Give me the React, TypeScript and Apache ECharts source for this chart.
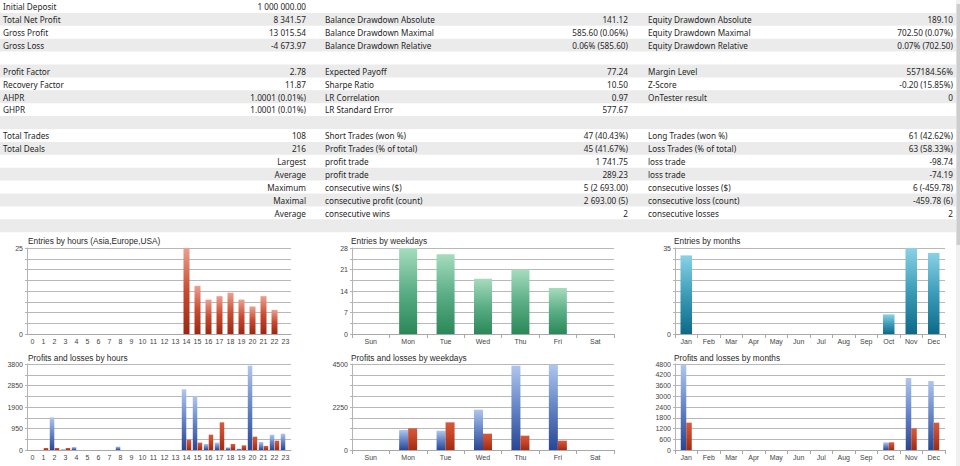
import React, { useEffect, useRef } from 'react';
import * as echarts from 'echarts';

// ---------- table data ----------
// each row: [label1, value1, label2, value2, label3, value3]
const statRows: string[][] = [
  ['Initial Deposit', '1 000 000.00', '', '', '', ''],
  ['Total Net Profit', '8 341.57', 'Balance Drawdown Absolute', '141.12', 'Equity Drawdown Absolute', '189.10'],
  ['Gross Profit', '13 015.54', 'Balance Drawdown Maximal', '585.60 (0.06%)', 'Equity Drawdown Maximal', '702.50 (0.07%)'],
  ['Gross Loss', '-4 673.97', 'Balance Drawdown Relative', '0.06% (585.60)', 'Equity Drawdown Relative', '0.07% (702.50)'],
  ['', '', '', '', '', ''],
  ['Profit Factor', '2.78', 'Expected Payoff', '77.24', 'Margin Level', '557184.56%'],
  ['Recovery Factor', '11.87', 'Sharpe Ratio', '10.50', 'Z-Score', '-0.20 (15.85%)'],
  ['AHPR', '1.0001 (0.01%)', 'LR Correlation', '0.97', 'OnTester result', '0'],
  ['GHPR', '1.0001 (0.01%)', 'LR Standard Error', '577.67', '', ''],
  ['', '', '', '', '', ''],
  ['Total Trades', '108', 'Short Trades (won %)', '47 (40.43%)', 'Long Trades (won %)', '61 (42.62%)'],
  ['Total Deals', '216', 'Profit Trades (% of total)', '45 (41.67%)', 'Loss Trades (% of total)', '63 (58.33%)'],
  ['', 'Largest', 'profit trade', '1 741.75', 'loss trade', '-98.74'],
  ['', 'Average', 'profit trade', '289.23', 'loss trade', '-74.19'],
  ['', 'Maximum', 'consecutive wins ($)', '5 (2 693.00)', 'consecutive losses ($)', '6 (-459.78)'],
  ['', 'Maximal', 'consecutive profit (count)', '2 693.00 (5)', 'consecutive loss (count)', '-459.78 (6)'],
  ['', 'Average', 'consecutive wins', '2', 'consecutive losses', '2'],
  ['', '', '', '', '', ''],
];

// ---------- chart data ----------
const hourLabels = ['0', '1', '2', '3', '4', '5', '6', '7', '8', '9', '10', '11', '12', '13', '14', '15', '16', '17', '18', '19', '20', '21', '22', '23'];
const weekdayLabels = ['Sun', 'Mon', 'Tue', 'Wed', 'Thu', 'Fri', 'Sat'];
const monthLabels = ['Jan', 'Feb', 'Mar', 'Apr', 'May', 'Jun', 'Jul', 'Aug', 'Sep', 'Oct', 'Nov', 'Dec'];

const entriesByHour = [0, 0, 0, 0, 0, 0, 0, 0, 0, 0, 0, 0, 0, 0, 25, 14, 10, 11, 12, 10, 8, 11, 7, 0];
const entriesByWeekday = [0, 28, 26, 18, 21, 15, 0];
const entriesByMonth = [32, 0, 0, 0, 0, 0, 0, 0, 0, 8, 35, 33];

const profitsByHour = [0, 0, 1440, 30, 130, 0, 0, 0, 150, 0, 0, 0, 0, 0, 2680, 2370, 265, 325, 118, 59, 3726, 353, 677, 721];
const lossesByHour = [0, 88, 88, 88, 0, 0, 0, 0, 0, 0, 0, 0, 0, 0, 456, 324, 677, 1222, 265, 206, 589, 177, 412, 0];
const profitsByWeekday = [0, 1047, 1012, 2110, 4413, 4465, 0];
const lossesByWeekday = [0, 1134, 1448, 855, 750, 488, 0];
const profitsByMonth = [4760, 0, 0, 0, 0, 0, 0, 0, 0, 428, 4020, 3850];
const lossesByMonth = [1526, 0, 0, 0, 0, 0, 0, 0, 0, 428, 1209, 1526];

// y-axis maxima and shown tick labels
const yMax = [25, 28, 35, 3800, 4500, 4800];
const tickLabels1 = [0, 25];
const tickLabels2 = [0, 7, 14, 21, 28];
const tickLabels3 = [0, 35];
const tickLabels4 = [0, 950, 1900, 2850, 3800];
const tickLabels5 = [0, 2250, 4500];
const tickLabels6 = [0, 600, 1200, 1800, 2400, 3000, 3600, 4200, 4800];

const titles = [
  'Entries by hours (Asia,Europe,USA)',
  'Entries by weekdays',
  'Entries by months',
  'Profits and losses by hours',
  'Profits and losses by weekdays',
  'Profits and losses by months',
];

const grad = (top: string, mid: string, bottom: string) =>
  new echarts.graphic.LinearGradient(0, 0, 0, 1, [
    { offset: 0, color: top },
    { offset: 0.5, color: mid },
    { offset: 1, color: bottom },
  ]);

export default function App() {
  const ref = useRef<HTMLDivElement>(null);

  useEffect(() => {
    if (!ref.current) return;
    const chart = echarts.init(ref.current, undefined, { renderer: 'svg' });

    const ROW_H = 12.9;
    const TFONT = 'Noto Sans';
    const TSIZE = 8.2;
    const tColor = '#262626';
    const graphics: any[] = [];
    statRows.forEach((row, i) => {
      const y = i * ROW_H;
      if (i % 2 === 1) {
        graphics.push({
          type: 'rect', silent: true, z: 0,
          shape: { x: 0, y, width: 956, height: ROW_H },
          style: { fill: '#ebebeb' },
        });
      }
      const cols = [
        { x: 3, align: 'left' },
        { x: 306, align: 'right' },
        { x: 325, align: 'left' },
        { x: 628, align: 'right' },
        { x: 648, align: 'left' },
        { x: 953, align: 'right' },
      ];
      row.forEach((txt, c) => {
        if (!txt) return;
        graphics.push({
          type: 'text', silent: true, z: 1,
          x: cols[c].x, y: y + ROW_H / 2 + 0.3,
          style: {
            text: txt, fill: tColor, fontSize: TSIZE, fontFamily: TFONT,
            textAlign: cols[c].align, textVerticalAlign: 'middle',
          },
        });
      });
    });
    // scrollbar
    graphics.push({ type: 'rect', silent: true, z: 2, shape: { x: 956, y: 0, width: 4, height: 466 }, style: { fill: '#f0f0f0' } });
    graphics.push({ type: 'rect', silent: true, z: 3, shape: { x: 956.5, y: 4, width: 3.5, height: 241 }, style: { fill: '#cdcdcd' } });

    const grids = [
      { left: 27, top: 248, width: 264, height: 86 },
      { left: 352, top: 248, width: 262, height: 86 },
      { left: 675, top: 248, width: 270, height: 86 },
      { left: 27, top: 364, width: 264, height: 86 },
      { left: 352, top: 364, width: 262, height: 86 },
      { left: 675, top: 364, width: 270, height: 86 },
    ];
    const titlePos = [
      { left: 28, top: 236.5 }, { left: 351, top: 236.5 }, { left: 674, top: 236.5 },
      { left: 28, top: 353.5 }, { left: 351, top: 353.5 }, { left: 674, top: 353.5 },
    ];
    const cats = [hourLabels, weekdayLabels, monthLabels, hourLabels, weekdayLabels, monthLabels];
    const shown = [tickLabels1, tickLabels2, tickLabels3, tickLabels4, tickLabels5, tickLabels6];

    const xAxis = cats.map((c, i) => ({
      type: 'category', gridIndex: i, data: c,
      axisLine: { lineStyle: { color: '#a8a8a8', width: 1 } },
      axisTick: { show: i % 3 !== 0, length: 4, lineStyle: { color: '#a8a8a8' } },
      axisLabel: { fontSize: 7, color: '#444', margin: 4, interval: 0, fontFamily: 'Liberation Sans' },
    }));
    const yAxis = yMax.map((m, i) => ({
      type: 'value', gridIndex: i, min: 0, max: m, interval: m / 8,
      axisLine: { show: true, lineStyle: { color: '#b4b4b4' } },
      axisTick: { show: true, length: 2, lineStyle: { color: '#b4b4b4' } },
      splitLine: { lineStyle: { color: '#b8b8b8', width: 1 } },
      axisLabel: {
        fontSize: 7, color: '#444', margin: 4, fontFamily: 'Liberation Sans',
        formatter: (v: number) => (shown[i].some((s) => Math.abs(s - v) < 1e-6) ? String(v) : ''),
      },
    }));

    const red = () => grad('#eca090', '#c84a30', '#9c2812');
    const green = () => grad('#a6dcbe', '#5cae86', '#2a8858');
    const teal = () => grad('#8ad2e6', '#3c9cb8', '#0c6a88');
    const blue = () => grad('#b0c6ee', '#6484c6', '#284694');
    const red2 = () => grad('#d85a3a', '#c24226', '#a02a12');

    const series: any[] = [
      { type: 'bar', xAxisIndex: 0, yAxisIndex: 0, data: entriesByHour, barWidth: 6, itemStyle: { color: red() } },
      { type: 'bar', xAxisIndex: 1, yAxisIndex: 1, data: entriesByWeekday, barWidth: 18, itemStyle: { color: green() } },
      { type: 'bar', xAxisIndex: 2, yAxisIndex: 2, data: entriesByMonth, barWidth: 11.5, itemStyle: { color: teal() } },
      { type: 'bar', name: 'Profits', xAxisIndex: 3, yAxisIndex: 3, data: profitsByHour, barWidth: 4.5, barGap: '10%', itemStyle: { color: blue() } },
      { type: 'bar', name: 'Losses', xAxisIndex: 3, yAxisIndex: 3, data: lossesByHour, barWidth: 4.5, barGap: '10%', itemStyle: { color: red2() } },
      { type: 'bar', name: 'Profits', xAxisIndex: 4, yAxisIndex: 4, data: profitsByWeekday, barWidth: 9, barGap: '0%', itemStyle: { color: blue() } },
      { type: 'bar', name: 'Losses', xAxisIndex: 4, yAxisIndex: 4, data: lossesByWeekday, barWidth: 9, barGap: '0%', itemStyle: { color: red2() } },
      { type: 'bar', name: 'Profits', xAxisIndex: 5, yAxisIndex: 5, data: profitsByMonth, barWidth: 5.5, barGap: '0%', itemStyle: { color: blue() } },
      { type: 'bar', name: 'Losses', xAxisIndex: 5, yAxisIndex: 5, data: lossesByMonth, barWidth: 5.5, barGap: '0%', itemStyle: { color: red2() } },
    ];

    chart.setOption({
      animation: false,
      backgroundColor: '#ffffff',
      title: titles.map((t, i) => ({
        text: t, left: titlePos[i].left, top: titlePos[i].top, padding: 0,
        textStyle: { fontSize: 8.3, fontWeight: 'normal', color: '#2a2a2a', fontFamily: 'Liberation Sans' },
      })),
      grid: grids,
      xAxis,
      yAxis,
      series,
      graphic: { elements: graphics },
    });

    return () => chart.dispose();
  }, []);

  return (
    <div
      ref={ref}
      style={{ position: 'absolute', left: 0, top: 0, width: 960, height: 466, background: '#fff' }}
    />
  );
}
